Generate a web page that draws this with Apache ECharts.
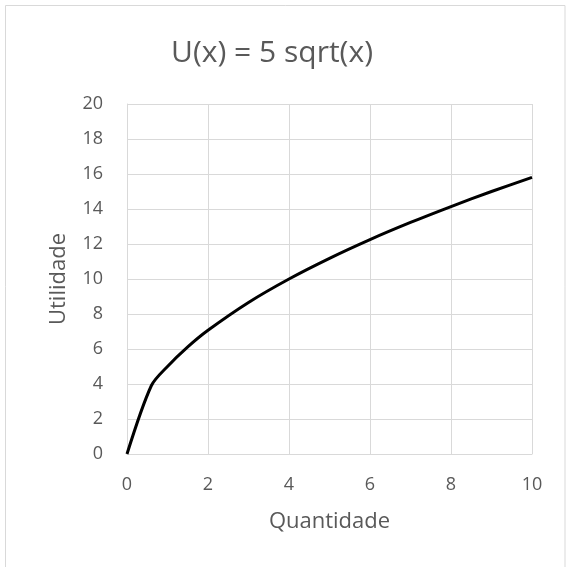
<!DOCTYPE html>
<html>
<head>
<meta charset="utf-8">
<script src="https://cdn.jsdelivr.net/npm/echarts@6/dist/echarts.min.js"></script>
<style>html,body{margin:0;padding:0;background:#fff}#c{width:566px;height:567px}</style>
</head>
<body>
<div id="c"></div>
<script>
var titleText = "U(x) = 5 sqrt(x)";
var xName = "Quantidade";
var yName = "Utilidade";
var quantidade = [0, 0.6, 1, 1.5, 2, 3, 4, 5, 6, 7, 8, 9, 10];
var utilidade = [0, 3.9, 5, 6.12, 7.07, 8.66, 10, 11.18, 12.25, 13.23, 14.14, 15, 15.81];
var xTicks = [0, 2, 4, 6, 8, 10];
var yTicks = [0, 2, 4, 6, 8, 10, 12, 14, 16, 18, 20];

var points = quantidade.map(function (x, i) { return [x, utilidade[i]]; });
var font = "'Open Sans', 'Liberation Sans', sans-serif";
var chart = echarts.init(document.getElementById('c'), null, {renderer: 'canvas'});
chart.setOption({
  animation: false,
  backgroundColor: '#ffffff',
  title: {
    text: titleText,
    left: 267, top: 33,
    textAlign: 'center',
    textStyle: {fontFamily: font, fontSize: 30, fontWeight: 'normal', color: '#595959'}
  },
  graphic: [{
    type: 'rect', silent: true, z: -1,
    shape: {x: 5.5, y: 5.5, width: 559.5, height: 600},
    style: {fill: 'none', stroke: '#d9d9d9', lineWidth: 1}
  }],
  grid: {left: 127, right: 34, top: 104, bottom: 113},
  xAxis: {
    type: 'value', min: xTicks[0], max: xTicks[xTicks.length - 1], interval: 2,
    name: xName, nameLocation: 'middle', nameGap: 57,
    nameTextStyle: {fontFamily: font, fontSize: 22, color: '#595959'},
    axisLine: {show: true, lineStyle: {color: '#d9d9d9', width: 1}},
    axisTick: {show: false},
    axisLabel: {fontFamily: font, fontSize: 18, color: '#595959', margin: 22},
    splitLine: {show: true, lineStyle: {color: '#d9d9d9', width: 1}}
  },
  yAxis: {
    type: 'value', min: yTicks[0], max: yTicks[yTicks.length - 1], interval: 2,
    name: yName, nameLocation: 'middle', nameGap: 57,
    nameTextStyle: {fontFamily: font, fontSize: 22, color: '#595959'},
    axisLine: {show: true, lineStyle: {color: '#d9d9d9', width: 1}},
    axisTick: {show: false},
    axisLabel: {fontFamily: font, fontSize: 18, color: '#595959', margin: 24},
    splitLine: {show: true, lineStyle: {color: '#d9d9d9', width: 1}}
  },
  series: [{
    type: 'line',
    data: points,
    smooth: 0.3,
    showSymbol: false,
    lineStyle: {color: '#000000', width: 3}
  }]
});
</script>
</body>
</html>
